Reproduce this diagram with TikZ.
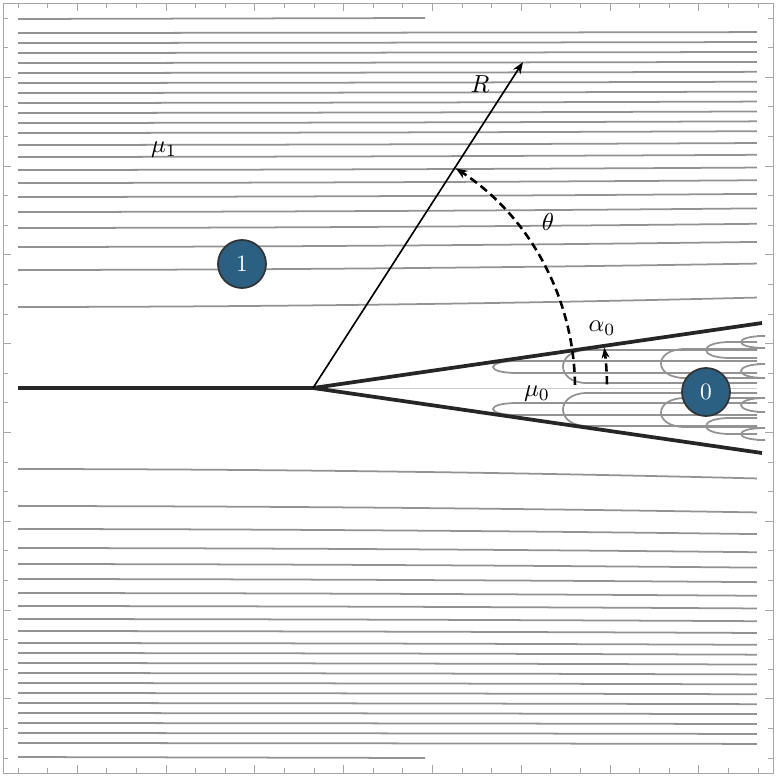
\documentclass[tikz,border=0pt]{standalone}
\usetikzlibrary{arrows.meta}
\definecolor{cblue}{HTML}{2B6082}
\begin{document}
\begin{tikzpicture}[x=0.03cm,y=-0.03cm,
  cont/.style={draw=gray!85, line width=1.5pt},
  thick line/.style={line width=3.2pt, black!85},
  region/.style={circle, draw=black!80, line width=1.5pt, fill=cblue, minimum size=48*0.03cm, inner sep=0pt},
  rtext/.style={text=white, scale=2, inner sep=0pt},
  lab/.style={scale=2.1, inner sep=0pt}]
\useasboundingbox (0,0) rectangle (778,778);
% frame
\draw[gray!70, line width=0.8pt] (3,3) rectangle (773,773);
\foreach \i in {0,...,25}{
  \pgfmathsetmacro{\p}{18+29.6*\i}
  \pgfmathsetmacro{\L}{mod(\i,3)==2 ? 8 : 5}
  \draw[gray!70, line width=0.7pt] (\p,3) -- ++(0,\L) (\p,773) -- ++(0,-\L)
     (3,\p) -- ++(\L,0) (773,\p) -- ++(-\L,0);
}
% outer contours
\draw[cont] (18,19) -- (425,18) (18,757) -- (425,758);
\foreach \y in {33,43,53,63,73,83,93,103,113,123,133,145,157,170,183,197,212,228,247,270,307}{
  \pgfmathsetmacro{\d}{22*exp(-(388-\y)/90)}
  \draw[cont] plot[domain=0:1,samples=20] ({18+739*\x},{\y-\d*\x*\x-0.5*\x});
  \draw[cont] plot[domain=0:1,samples=20] ({18+739*\x},{776-\y+\d*\x*\x+0.5*\x});
}
% wedge interior
\draw[gray!40, line width=0.8pt] (313,388) -- (757,388);
\foreach \tx/\ya/\yb in {487/361/373, 557/350/383, 655/349/378, 700/342/358, 735/336/348, 735/364/378}{
  \draw[cont] (757,\ya) -- (\tx+30,\ya) .. controls (\tx-2,\ya) and (\tx-2,\yb) .. (\tx+30,\yb) -- (757,\yb);
  \draw[cont] (757,776-\ya) -- (\tx+30,776-\ya) .. controls (\tx-2,776-\ya) and (\tx-2,776-\yb) .. (\tx+30,776-\yb) -- (757,776-\yb);
}
% thick lines
\coordinate (tip) at (313,388);
\coordinate (L) at (18,388);
\coordinate (U) at (762,323);
\coordinate (D) at (762,453);
\draw[thick line] (L) -- (tip) -- (U);
\draw[thick line] (tip) -- (D);
% R line
\coordinate (Rend) at (523,62);
\draw[line width=1.4pt, -{Stealth[length=10pt]}] (tip) -- (Rend);
% arcs
\draw[line width=2.2pt, dash pattern=on 7pt off 4pt, -{Stealth[length=10pt]}] ([shift={(-0.7:262)}]tip) arc[start angle=-0.7, end angle=-57, radius=262];
\draw[line width=2.2pt, dash pattern=on 7pt off 4pt, -{Stealth[length=9pt]}] ([shift={(-0.7:294)}]tip) arc[start angle=-0.7, end angle=-7.9, radius=294];
% labels
\node[lab] (R) at (480,84) {$R$};
\node[lab] (th) at (548,222) {$\theta$};
\node[lab] (a0) at (602,328) {$\alpha_0$};
\node[lab] (m0) at (537,394) {$\mu_0$};
\node[lab] (m1) at (164,150) {$\mu_1$};
\node[region] (r1) at (242,264) {};
\node[rtext] at (r1) {1};
\node[region] (r0) at (706,392) {};
\node[rtext] at (r0) {0};
\end{tikzpicture}
\end{document}
